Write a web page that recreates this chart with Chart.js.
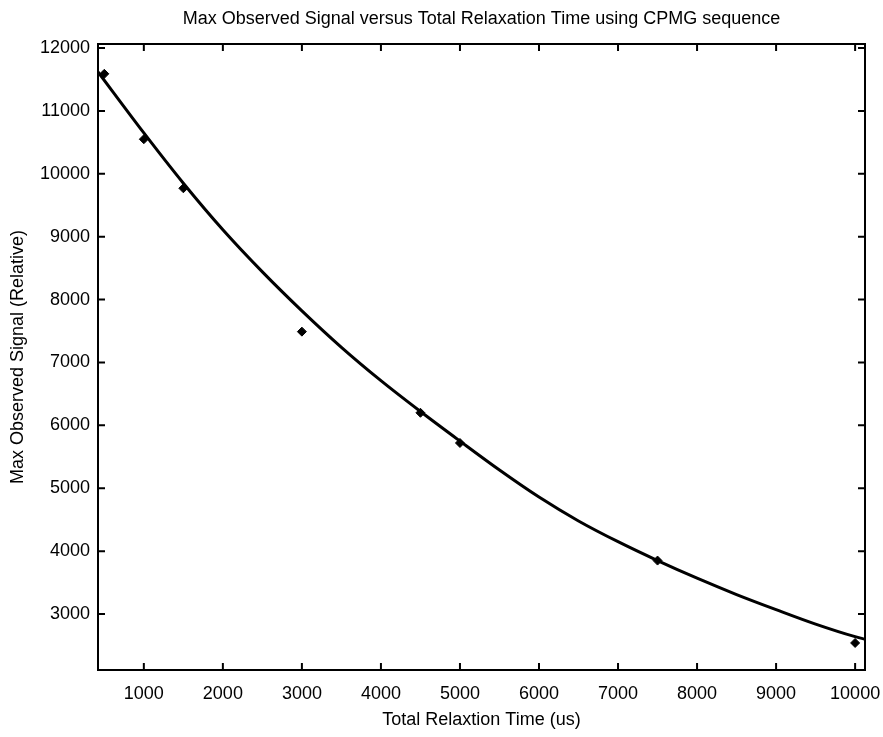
<!DOCTYPE html>
<html>
<head>
<meta charset="utf-8">
<script src="https://cdn.jsdelivr.net/npm/chart.js@4/dist/chart.umd.min.js"></script>
<style>
html,body{margin:0;padding:0;background:#fff;}
#wrap{width:883px;height:737px;}
</style>
</head>
<body>
<div id="wrap"><canvas id="c" width="883" height="737"></canvas></div>
<script>
const sampleTimes = [500, 1000, 1500, 3000, 4500, 5000, 7500, 10000];
const sampleSignal = [11590, 10550, 9770, 7490, 6200, 5720, 3850, 2540];
// Fitted curve
const curveTimes = [420, 1000, 1500, 2000, 2500, 3000, 3500, 4000, 4500, 5000, 5500, 6000, 6500, 7000, 7500, 8000, 8500, 9000, 9500, 10000, 10125];
const curveSignal = [11620, 10650, 9850, 9110, 8440, 7820, 7240, 6710, 6220, 5750, 5290, 4860, 4480, 4150, 3850, 3570, 3310, 3070, 2840, 2640, 2600];
// Tick labels
const xTicks = [1000, 2000, 3000, 4000, 5000, 6000, 7000, 8000, 9000, 10000];
const yTicks = [3000, 4000, 5000, 6000, 7000, 8000, 9000, 10000, 11000, 12000];

const FONT = "'Liberation Sans', Arial, sans-serif";

const framePlugin = {
  id: 'frame',
  afterDatasetsDraw(chart) {
    const ctx = chart.ctx, a = chart.chartArea;
    const xs = chart.scales.x, ys = chart.scales.y;
    ctx.save();
    ctx.strokeStyle = '#000';
    ctx.lineWidth = 2;
    ctx.strokeRect(a.left, a.top, a.right - a.left, a.bottom - a.top);
    const L = 7;
    ctx.beginPath();
    xTicks.forEach(v => {
      const p = xs.getPixelForValue(v);
      ctx.moveTo(p, a.bottom); ctx.lineTo(p, a.bottom - L);
      ctx.moveTo(p, a.top); ctx.lineTo(p, a.top + L);
    });
    yTicks.forEach(v => {
      const p = ys.getPixelForValue(v);
      ctx.moveTo(a.left, p); ctx.lineTo(a.left + L, p);
      ctx.moveTo(a.right, p); ctx.lineTo(a.right - L, p);
    });
    ctx.stroke();
    ctx.restore();
  }
};

new Chart(document.getElementById('c'), {
  type: 'scatter',
  data: {
    datasets: [
      {
        label: 'fit',
        data: curveTimes.map((t, i) => ({x: t, y: curveSignal[i]})),
        showLine: true,
        borderColor: '#000',
        borderWidth: 3,
        pointRadius: 0,
        cubicInterpolationMode: 'monotone',
        fill: false
      },
      {
        label: 'samples',
        data: sampleTimes.map((t, i) => ({x: t, y: sampleSignal[i]})),
        showLine: false,
        pointStyle: 'rectRot',
        pointRadius: 4.5,
        backgroundColor: '#000',
        borderColor: '#000',
        borderWidth: 1
      }
    ]
  },
  options: {
    responsive: false,
    animation: false,
    devicePixelRatio: 1,
    layout: {padding: {left: 0, right: 18, top: 0, bottom: 0}},
    plugins: {
      legend: {display: false},
      tooltip: {enabled: false},
      title: {
        display: true,
        fullSize: false,
        text: 'Max Observed Signal versus Total Relaxation Time using CPMG sequence',
        color: '#000',
        font: {family: FONT, size: 18, weight: 'normal'},
        padding: {top: 8, bottom: 14.4}
      }
    },
    scales: {
      x: {
        type: 'linear',
        min: 420,
        max: 10125,
        afterBuildTicks: s => { s.ticks = xTicks.map(v => ({value: v})); },
        afterFit: s => { s.height = 67; s.paddingRight = 0; s.paddingLeft = 0; },
        grid: {display: false, drawTicks: false},
        border: {display: false},
        ticks: {color: '#000', font: {family: FONT, size: 18}, padding: 13, maxRotation: 0,
                callback: v => String(v)},
        title: {display: true, text: 'Total Relaxtion Time (us)', color: '#000', font: {family: FONT, size: 18}, padding: {top: 4, bottom: 6}}
      },
      y: {
        type: 'linear',
        min: 2110,
        max: 12064,
        afterBuildTicks: s => { s.ticks = yTicks.map(v => ({value: v})); },
        afterFit: s => { s.width = 98; },
        grid: {display: false, drawTicks: false},
        border: {display: false},
        ticks: {color: '#000', font: {family: FONT, size: 18}, padding: 8,
                callback: v => String(v)},
        title: {display: true, text: 'Max Observed Signal (Relative)', color: '#000', font: {family: FONT, size: 18}, padding: {top: 7, bottom: 6}}
      }
    }
  },
  plugins: [framePlugin]
});
</script>
</body>
</html>
